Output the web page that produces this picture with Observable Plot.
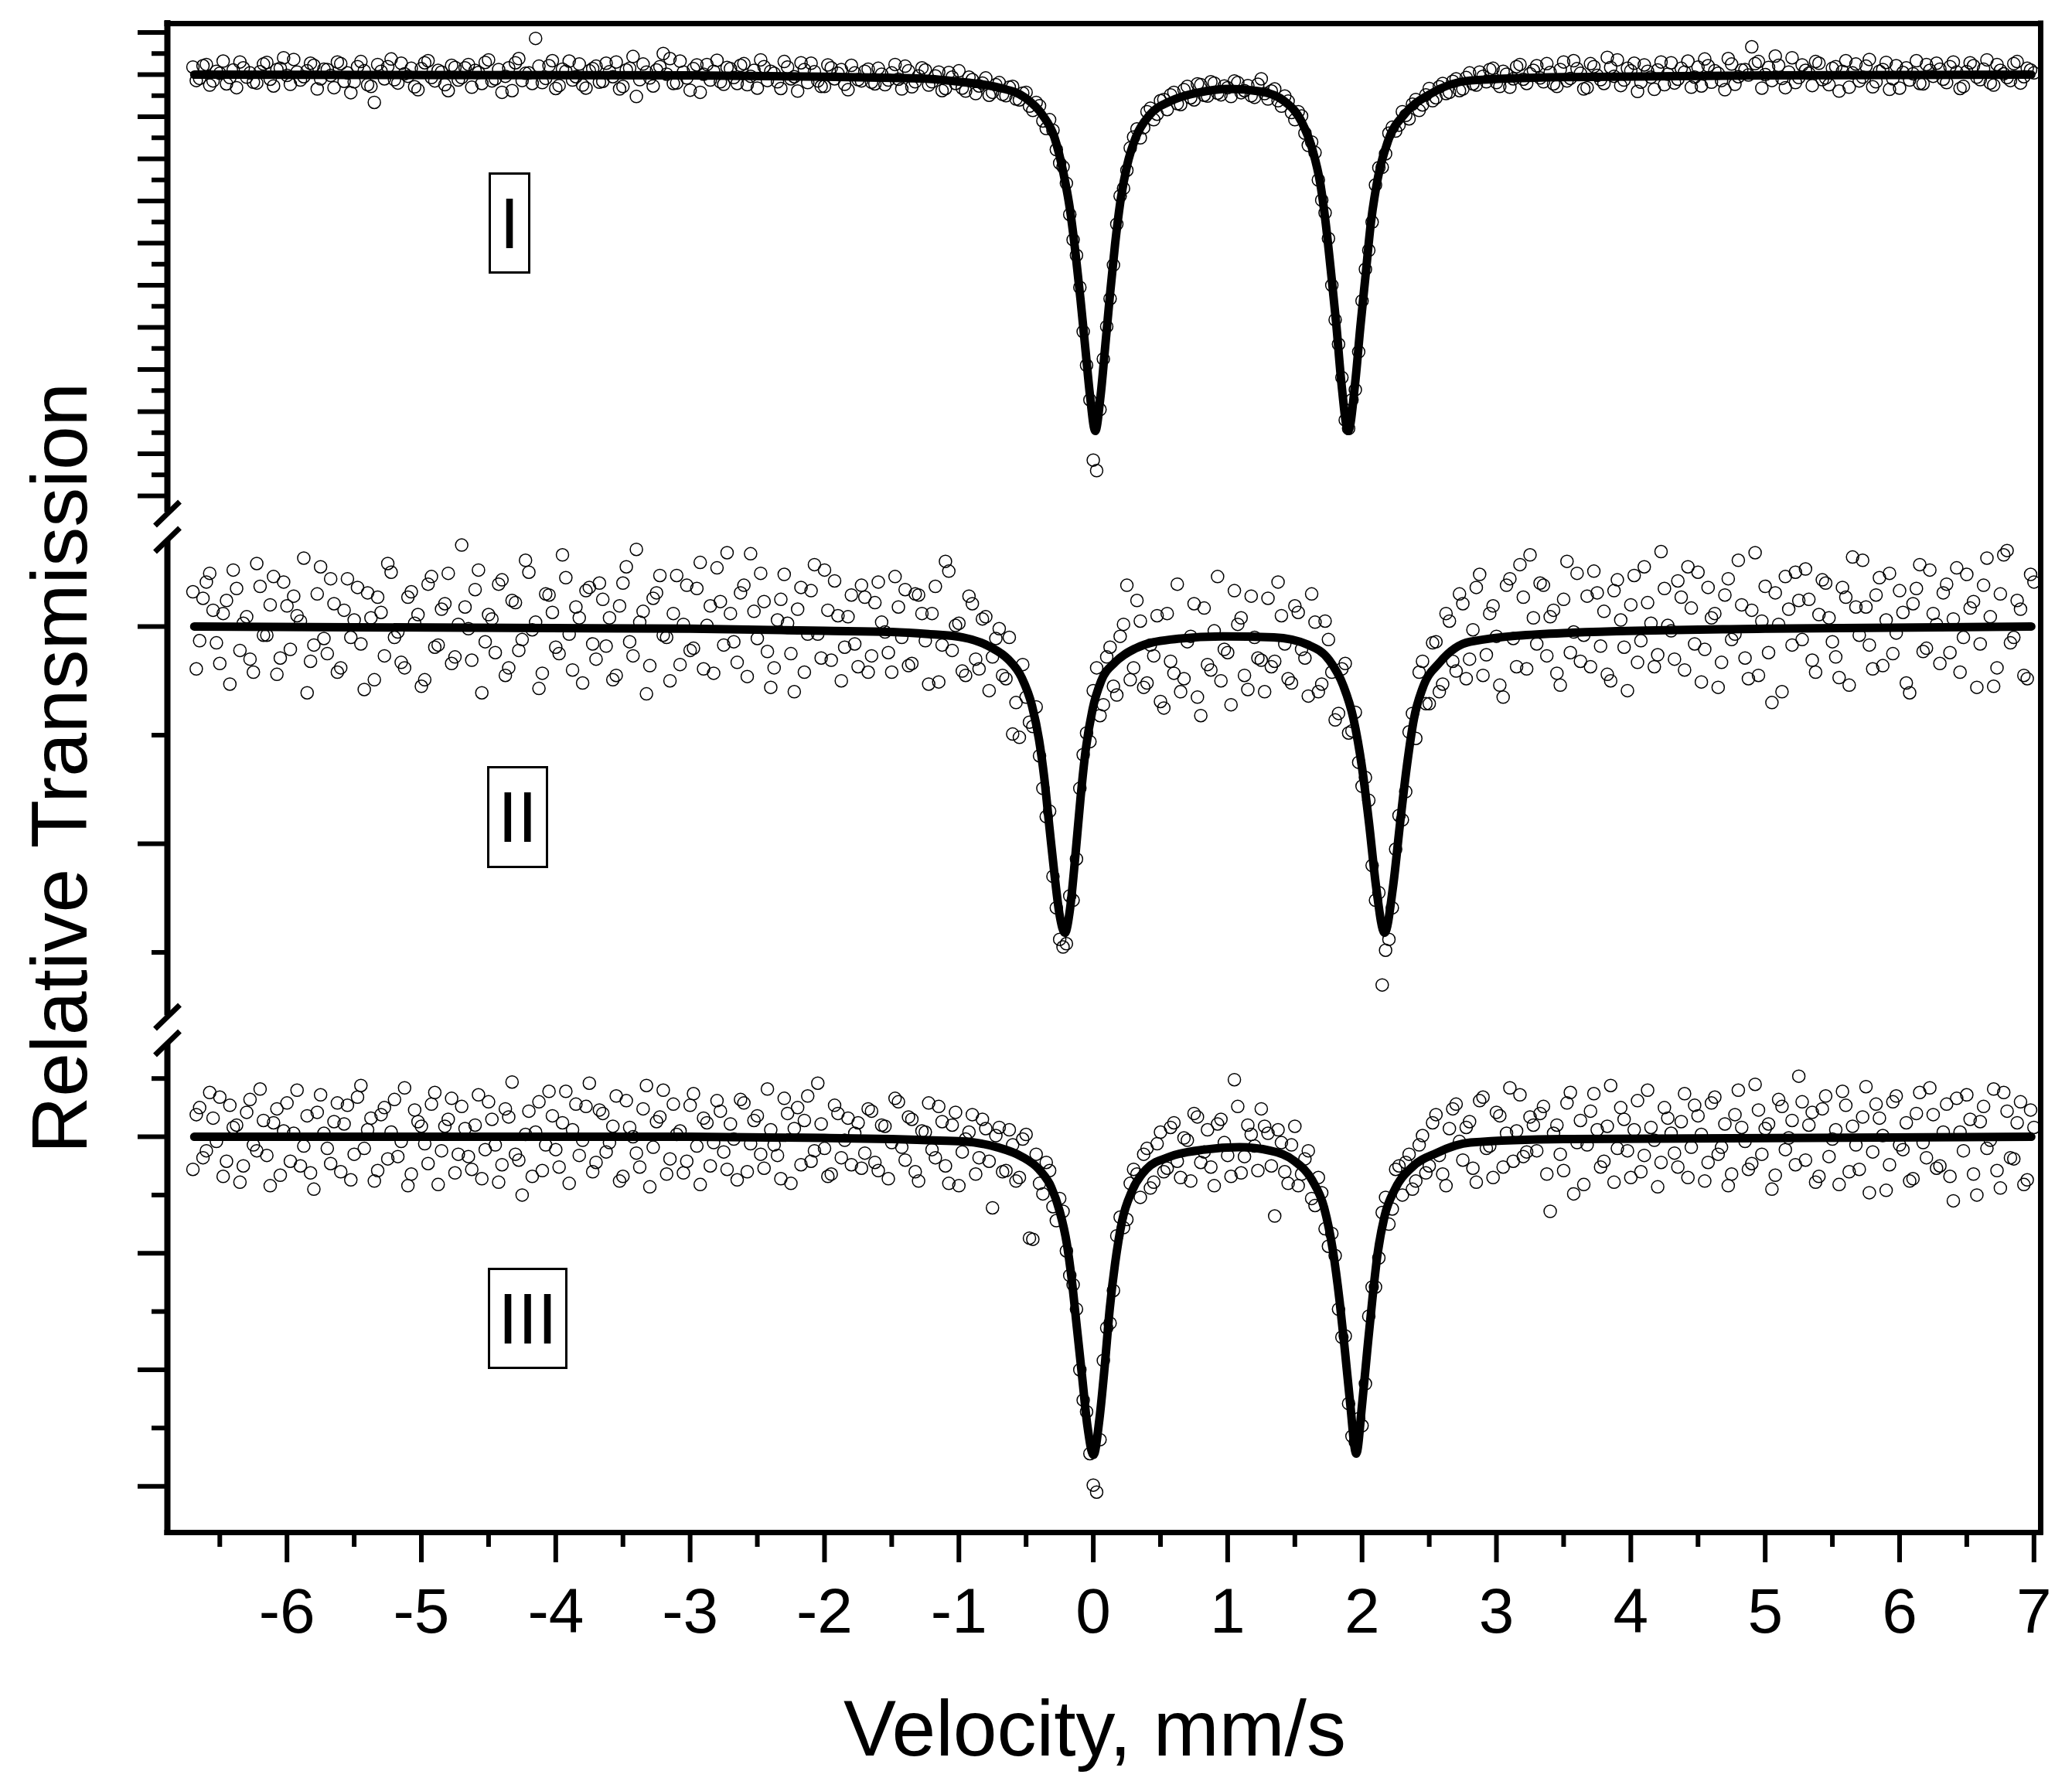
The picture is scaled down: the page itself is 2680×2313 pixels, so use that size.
<!DOCTYPE html>
<html><head><meta charset="utf-8">
<script src="https://cdn.jsdelivr.net/npm/d3@7"></script>
<script src="https://cdn.jsdelivr.net/npm/@observablehq/plot@0.6"></script>
<style>
html,body{margin:0;padding:0;background:#fff;}
#chart{position:relative;width:2680px;height:2313px;overflow:hidden;font-family:"Liberation Sans",Arial,sans-serif;}
#chart svg{position:absolute;left:0;top:0;overflow:visible;}
.tag{position:absolute;box-sizing:border-box;border:3px solid #000;display:flex;align-items:center;justify-content:center;font-size:92px;line-height:1;color:#000;}
</style></head><body><div id="chart"></div>
<script>
// ---------- data ----------
// Channels: even channels start at -6.700 mm/s, odd channels at -6.675 mm/s,
// each row below holds 20 channels of one parity (0.05 mm/s apart, 1 mm/s per row).
const evenStart = -6.700;
const oddStart = -6.675;
const channelStep = 0.05;

const xTickLabels = [-6,-5,-4,-3,-2,-1,0,1,2,3,4,5,6,7];
const xMinorTicks = [-6.5,-5.5,-4.5,-3.5,-2.5,-1.5,-0.5,0.5,1.5,2.5,3.5,4.5,5.5,6.5];
const panelLabels = ["I","II","III"];

// Spectrum I
const spectrumIEven = [
[1.0018,0.9991,1.0024,0.9985,1.0003,0.9978,1.0011,1.0030,0.9994,0.9982,1.0007,1.0029,0.9973,1.0015,0.9998,1.0036,0.9987,1.0009,1.0022,0.9990],
[1.0012,0.9969,1.0026,1.0004,0.9983,1.0031,0.9976,0.9934,1.0008,1.0019,0.9988,1.0027,0.9996,0.9971,1.0014,1.0033,0.9985,1.0006,0.9962,1.0017],
[0.9993,1.0024,1.0010,0.9979,1.0035,0.9990,0.9958,1.0016,1.0028,0.9986,1.0004,1.0086,0.9981,1.0021,0.9967,1.0013,1.0032,0.9995,0.9975,1.0009],
[1.0020,0.9984,1.0007,1.0030,0.9972,1.0015,0.9948,1.0025,0.9992,1.0011,1.0050,1.0038,0.9980,1.0006,0.9963,1.0023,1.0001,0.9987,1.0034,0.9977],
[1.0014,0.9979,1.0026,0.9996,0.9968,1.0019,1.0008,0.9983,1.0031,0.9990,0.9961,1.0012,1.0027,0.9985,0.9972,1.0016,1.0003,0.9977,1.0022,0.9988],
[1.0008,0.9982,1.0015,0.9976,1.0004,0.9989,1.0020,0.9971,0.9997,1.0011,0.9983,1.0006,0.9967,0.9994,1.0009,0.9961,0.9988,0.9973,0.9992,0.9958],
[0.9981,0.9950,0.9972,0.9940,0.9958,0.9915,0.9926,0.9872,0.9868,0.9790,0.9742,0.9608,0.9495,0.9310,0.9085,0.9205,0.9402,0.9548,0.9712,0.9773],
[0.9852,0.9850,0.9912,0.9893,0.9938,0.9917,0.9958,0.9929,0.9972,0.9940,0.9976,0.9949,0.9980,0.9952,0.9969,0.9985,0.9957,0.9974,0.9946,0.9990],
[0.9942,0.9966,0.9925,0.9937,0.9893,0.9902,0.9832,0.9815,0.9702,0.9611,0.9418,0.9281,0.9160,0.9252,0.9463,0.9583,0.9738,0.9780,0.9861,0.9866],
[0.9912,0.9895,0.9941,0.9928,0.9967,0.9945,0.9979,0.9958,0.9990,0.9966,1.0004,0.9975,0.9996,1.0012,0.9981,1.0008,0.9970,1.0019,0.9989,1.0002],
[1.0021,0.9983,1.0005,0.9972,1.0030,0.9991,1.0014,0.9966,1.0026,0.9998,0.9979,1.0017,1.0035,0.9987,1.0009,0.9960,1.0023,0.9994,1.0011,0.9976],
[1.0028,0.9989,1.0006,0.9970,1.0018,1.0037,0.9982,1.0003,0.9964,1.0025,0.9995,1.0012,1.0066,1.0031,1.0000,0.9986,1.0022,0.9969,1.0040,0.9993],
[1.0010,0.9974,1.0027,0.9992,1.0015,0.9961,1.0033,1.0004,0.9985,1.0020,0.9971,1.0008,1.0029,0.9990,0.9968,1.0016,1.0002,0.9979,1.0024,0.9996],
[1.0013,0.9981,1.0030,0.9967,1.0007,1.0021,0.9988,1.0035,0.9975,1.0010,0.9993,1.0026,0.9980,1.0015,1.0004]];
const spectrumIOdd = [
[0.9986,1.0021,0.9975,1.0008,1.0032,0.9993,0.9969,1.0016,1.0004,0.9980,1.0025,0.9989,1.0012,1.0040,0.9977,1.0006,0.9995,1.0027,0.9966,1.0013],
[0.9998,1.0030,0.9984,0.9957,1.0019,1.0009,0.9972,1.0024,0.9990,1.0037,0.9980,1.0002,1.0015,0.9964,1.0028,0.9993,1.0010,0.9976,1.0022,0.9987],
[1.0016,0.9970,1.0005,1.0029,0.9985,1.0012,0.9996,0.9962,1.0038,1.0003,0.9979,1.0020,0.9991,1.0033,0.9974,1.0008,0.9987,1.0025,0.9968,1.0014],
[0.9982,1.0027,0.9995,0.9966,1.0011,1.0043,0.9988,1.0006,0.9973,1.0019,1.0001,0.9979,1.0032,0.9992,1.0014,0.9958,1.0024,1.0008,0.9983,1.0017],
[0.9993,1.0022,0.9976,1.0010,1.0035,0.9986,1.0003,0.9967,1.0018,0.9995,1.0028,0.9981,1.0007,0.9972,1.0023,0.9990,1.0012,0.9964,1.0004,0.9985],
[1.0013,0.9978,1.0001,0.9987,1.0024,0.9966,1.0009,0.9983,1.0016,0.9975,0.9997,0.9962,1.0005,0.9979,0.9968,0.9994,0.9955,0.9980,0.9951,0.9976],
[0.9953,0.9970,0.9942,0.9956,0.9925,0.9934,0.9890,0.9893,0.9822,0.9781,0.9668,0.9571,0.9390,0.9228,0.9060,0.9325,0.9468,0.9645,0.9730,0.9826],
[0.9871,0.9874,0.9920,0.9906,0.9941,0.9952,0.9931,0.9964,0.9945,0.9978,0.9951,0.9983,0.9956,0.9973,0.9948,0.9981,0.9962,0.9950,0.9977,0.9955],
[0.9961,0.9938,0.9949,0.9910,0.9912,0.9861,0.9840,0.9750,0.9672,0.9500,0.9360,0.9180,0.9228,0.9342,0.9538,0.9650,0.9779,0.9812,0.9875,0.9880],
[0.9903,0.9930,0.9915,0.9952,0.9938,0.9971,0.9955,0.9984,0.9962,0.9993,0.9978,1.0006,0.9983,1.0015,0.9972,1.0001,0.9990,1.0024,0.9979,1.0010],
[0.9992,1.0026,0.9978,1.0012,0.9985,1.0033,1.0003,0.9969,1.0019,0.9988,1.0041,0.9996,0.9974,1.0015,1.0027,0.9982,1.0008,0.9965,1.0030,1.0001],
[0.9980,1.0015,1.0032,0.9994,0.9973,1.0021,1.0009,0.9986,1.0038,0.9977,1.0011,0.9999,1.0026,0.9968,1.0017,1.0044,0.9991,1.0006,0.9981,1.0023],
[1.0003,1.0031,0.9988,0.9976,1.0019,1.0008,0.9970,1.0025,0.9994,1.0036,0.9983,1.0012,0.9965,1.0021,1.0005,0.9987,1.0033,0.9978,1.0010,1.0027],
[0.9989,1.0019,1.0006,0.9972,1.0028,0.9994,1.0013,0.9980,1.0024,1.0002,0.9986,1.0031,0.9995,1.0011]];

// Spectrum II
const spectrumIIEven = [
[1.0032,0.9987,1.0041,1.0015,0.9966,1.0024,1.0052,0.9978,1.0009,0.9958,1.0037,0.9992,1.0046,0.9971,1.0019,1.0028,1.0005,0.9939,0.9983,1.0055],
[0.9975,1.0021,0.9962,1.0044,1.0006,0.9984,1.0031,0.9951,1.0013,1.0058,0.9990,0.9967,1.0027,1.0003,0.9945,1.0039,0.9981,1.0016,1.0049,0.9972],
[1.0075,0.9998,1.0034,0.9939,1.0011,0.9976,1.0043,0.9962,1.0022,0.9988,1.0050,1.0004,0.9957,1.0029,0.9981,1.0066,0.9993,1.0018,0.9948,1.0036],
[0.9970,1.0025,1.0008,0.9955,1.0040,0.9986,1.0071,1.0014,0.9964,1.0031,0.9992,0.9950,1.0047,1.0002,0.9978,1.0035,0.9961,1.0019,1.0054,0.9983],
[1.0012,0.9967,1.0038,1.0067,0.9989,1.0023,0.9944,1.0006,1.0048,0.9975,1.0016,0.9958,1.0033,0.9993,1.0052,0.9969,1.0010,0.9981,1.0029,0.9963],
[1.0027,0.9973,1.0041,0.9995,0.9958,1.0018,1.0034,0.9966,1.0029,0.9987,1.0012,0.9949,1.0060,0.9978,1.0003,0.9955,1.0021,0.9961,1.0009,0.9972],
[0.9998,0.9952,0.9901,0.9898,0.9935,0.9908,0.9881,0.9825,0.9770,0.9712,0.9708,0.9748,0.9851,0.9902,0.9941,0.9918,0.9972,0.9945,0.9991,1.0038],
[0.9962,1.0005,0.9948,0.9973,0.9931,1.0012,0.9957,0.9940,0.9986,1.0021,0.9918,0.9965,0.9996,0.9950,0.9976,1.0033,1.0008,0.9942,0.9990,0.9969],
[1.0026,0.9968,1.0010,0.9952,1.0019,0.9979,0.9936,1.0004,0.9947,0.9988,0.9914,0.9961,0.9902,0.9921,0.9853,0.9840,0.9748,0.9670,0.9712,0.9795],
[0.9822,0.9903,0.9897,0.9968,0.9929,0.9986,0.9947,1.0005,0.9959,1.0021,0.9970,1.0036,0.9955,1.0012,0.9991,0.9935,1.0044,0.9963,1.0027,1.0066],
[0.9984,1.0038,1.0009,0.9957,1.0025,0.9976,1.0049,0.9992,0.9963,1.0031,1.0014,0.9950,1.0043,0.9981,1.0020,0.9967,1.0055,1.0003,0.9974,1.0035],
[0.9996,1.0042,0.9960,1.0017,1.0050,0.9979,1.0008,0.9944,1.0029,0.9988,1.0061,0.9971,1.0015,0.9955,1.0037,0.9930,1.0002,1.0046,0.9983,1.0024],
[1.0053,0.9969,1.0011,1.0040,0.9986,0.9953,1.0027,1.0064,0.9992,1.0018,0.9961,1.0045,1.0006,0.9975,1.0033,0.9948,1.0021,1.0057,0.9980,1.0012],
[0.9966,1.0039,1.0007,0.9958,1.0048,1.0023,0.9984,1.0063,0.9945,1.0030,1.0070,0.9990,1.0016,0.9952,1.0041]];
const spectrumIIOdd = [
[0.9961,1.0026,1.0049,0.9985,1.0012,0.9947,1.0035,1.0003,0.9970,1.0058,0.9992,1.0020,0.9956,1.0041,0.9979,1.0010,1.0063,0.9968,1.0030,0.9989],
[1.0044,0.9958,1.0015,0.9990,1.0036,0.9942,1.0008,1.0027,0.9973,1.0050,0.9995,0.9962,1.0032,1.0011,0.9951,1.0046,0.9983,1.0021,0.9966,1.0002],
[1.0018,0.9969,1.0052,0.9986,1.0007,1.0039,0.9955,1.0024,0.9978,1.0061,0.9997,0.9943,1.0030,1.0013,0.9975,1.0045,0.9960,1.0008,1.0033,0.9984],
[1.0040,0.9982,0.9951,1.0019,1.0055,0.9973,1.0004,0.9938,1.0026,1.0047,0.9990,1.0012,0.9965,1.0038,0.9980,1.0059,1.0001,0.9957,1.0023,1.0068],
[0.9986,1.0031,0.9954,1.0014,1.0049,0.9977,0.9962,1.0025,1.0003,0.9940,1.0036,0.9993,1.0057,0.9971,1.0015,1.0042,0.9950,1.0009,0.9984,1.0038],
[0.9958,1.0022,1.0004,0.9976,1.0046,0.9990,0.9964,1.0030,1.0012,0.9947,1.0037,0.9983,1.0051,1.0001,0.9959,1.0028,0.9970,1.0007,0.9941,0.9989],
[0.9955,0.9990,0.9930,0.9965,0.9912,0.9926,0.9851,0.9830,0.9741,0.9705,0.9752,0.9786,0.9882,0.9894,0.9962,0.9928,0.9981,0.9937,1.0002,0.9951],
[1.0024,0.9944,0.9983,1.0010,0.9925,0.9968,1.0039,0.9952,0.9991,0.9935,1.0017,0.9960,1.0046,0.9979,0.9928,1.0002,0.9955,1.0028,0.9971,0.9940],
[0.9963,1.0041,0.9984,0.9948,1.0013,0.9971,1.0030,0.9940,1.0005,0.9958,0.9920,0.9966,0.9904,0.9875,0.9861,0.9780,0.9755,0.9702,0.9741,0.9826],
[0.9848,0.9920,0.9958,0.9929,0.9985,0.9940,1.0012,0.9968,1.0030,0.9952,0.9997,1.0048,0.9974,1.0019,0.9946,1.0038,0.9989,1.0057,0.9961,1.0008],
[1.0040,0.9973,1.0015,0.9946,1.0060,0.9995,0.9968,1.0028,1.0051,0.9982,0.9956,1.0033,1.0006,0.9941,1.0047,0.9987,1.0022,0.9963,1.0069,1.0001],
[0.9970,1.0027,1.0055,0.9984,0.9949,1.0036,1.0012,0.9967,1.0044,0.9993,1.0020,0.9952,1.0068,1.0005,0.9976,1.0031,0.9940,1.0016,1.0050,0.9988],
[1.0025,0.9958,1.0043,1.0008,0.9972,1.0036,0.9946,1.0018,1.0061,0.9983,1.0029,0.9964,1.0049,0.9994,1.0013,0.9939,1.0035,0.9977,1.0052,1.0002],
[1.0031,0.9976,1.0054,0.9990,1.0017,0.9944,1.0038,1.0009,0.9962,1.0066,0.9985,1.0024,0.9955,1.0048]];

// Spectrum III
const spectrumIIIEven = [
[0.9972,1.0025,0.9988,1.0016,1.0034,0.9979,1.0008,0.9961,1.0021,0.9993,1.0041,0.9984,1.0012,0.9967,1.0029,1.0003,0.9975,1.0018,0.9955,1.0036],
[0.9990,1.0013,0.9970,1.0027,0.9985,1.0044,1.0006,0.9962,1.0019,0.9981,1.0032,0.9996,0.9958,1.0023,1.0009,0.9977,1.0038,0.9988,1.0015,0.9969],
[1.0026,0.9983,1.0010,0.9964,1.0030,0.9993,0.9976,1.0017,0.9985,0.9950,1.0022,1.0004,0.9971,1.0039,0.9989,1.0012,0.9960,1.0028,0.9997,1.0046],
[0.9978,1.0020,0.9995,1.0035,0.9966,1.0008,0.9986,1.0024,0.9957,1.0013,1.0040,0.9981,1.0002,0.9969,1.0027,0.9992,1.0016,0.9975,1.0031,0.9987],
[1.0011,0.9963,1.0029,0.9994,1.0018,0.9973,1.0006,0.9984,1.0033,0.9960,1.0025,1.0014,0.9979,1.0046,0.9990,0.9968,1.0020,0.9997,0.9976,1.0012],
[0.9986,1.0022,0.9971,1.0009,0.9995,1.0030,0.9980,1.0015,0.9962,1.0004,0.9989,1.0026,0.9975,1.0010,0.9958,0.9998,1.0019,0.9982,1.0007,0.9939],
[1.0008,0.9971,0.9993,0.9965,1.0002,0.9912,0.9960,0.9978,0.9940,0.9947,0.9902,0.9873,0.9800,0.9764,0.9701,0.9740,0.9836,0.9868,0.9931,0.9929],
[0.9972,0.9948,0.9990,0.9961,1.0004,0.9973,1.0012,0.9965,0.9997,1.0020,0.9978,1.0006,0.9958,1.0015,0.9984,1.0049,0.9969,1.0010,0.9992,1.0024],
[1.0003,0.9932,0.9995,0.9960,1.0009,0.9968,0.9988,0.9941,0.9952,0.9906,0.9898,0.9828,0.9771,0.9738,0.9752,0.9846,0.9871,0.9935,0.9925,0.9972],
[0.9950,0.9985,0.9962,1.0001,0.9975,1.0019,0.9968,1.0007,1.0028,0.9980,1.0013,0.9961,1.0034,0.9992,1.0021,0.9974,1.0042,1.0005,0.9983,1.0017],
[0.9988,1.0026,0.9936,1.0010,0.9971,1.0038,0.9995,0.9959,1.0022,1.0006,0.9979,1.0044,0.9990,1.0015,0.9965,1.0031,0.9984,1.0008,0.9957,1.0025],
[1.0003,0.9974,1.0037,0.9991,1.0018,0.9962,1.0029,0.9985,1.0011,0.9968,1.0040,0.9996,0.9977,1.0023,1.0007,0.9955,1.0032,0.9989,1.0014,1.0052],
[0.9980,1.0021,0.9966,1.0035,0.9998,0.9959,1.0027,1.0009,0.9972,1.0043,0.9987,1.0016,0.9954,1.0030,0.9993,1.0012,0.9964,1.0038,0.9982,1.0019],
[0.9975,1.0028,0.9945,1.0004,1.0036,0.9968,1.0013,0.9990,1.0041,0.9956,1.0022,0.9981,1.0030,0.9963,1.0008]];
const spectrumIIIOdd = [
[1.0019,0.9982,1.0038,0.9996,0.9966,1.0027,1.0010,0.9975,1.0032,0.9988,1.0014,0.9958,1.0024,1.0005,0.9979,1.0040,0.9992,0.9969,1.0021,1.0003],
[0.9977,1.0029,1.0011,0.9963,1.0034,0.9990,1.0016,0.9971,1.0025,1.0004,0.9983,1.0042,0.9968,1.0013,0.9994,1.0028,0.9959,1.0009,1.0033,0.9985],
[1.0007,0.9972,1.0036,0.9989,1.0015,0.9961,1.0024,1.0047,0.9980,1.0002,0.9966,1.0030,0.9993,1.0018,0.9974,1.0039,1.0006,0.9984,1.0026,0.9970],
[1.0023,0.9987,1.0009,0.9962,1.0031,1.0000,0.9974,1.0044,0.9991,1.0017,0.9968,1.0028,1.0005,0.9979,1.0037,0.9959,1.0012,0.9995,1.0022,0.9972],
[0.9998,1.0032,0.9970,1.0014,0.9985,1.0041,0.9993,0.9964,1.0020,1.0007,0.9976,1.0035,0.9988,1.0011,0.9966,1.0027,0.9982,1.0016,1.0003,0.9973],
[1.0024,0.9978,1.0010,0.9964,1.0033,0.9991,1.0017,0.9970,1.0005,1.0029,0.9982,1.0013,0.9960,1.0021,0.9987,1.0004,0.9968,1.0015,0.9979,1.0001],
[0.9970,1.0006,0.9962,0.9998,0.9913,0.9985,0.9951,0.9971,0.9928,0.9936,0.9881,0.9852,0.9774,0.9728,0.9695,0.9808,0.9840,0.9915,0.9922,0.9960],
[0.9968,0.9985,0.9956,0.9994,0.9970,1.0008,0.9979,0.9999,0.9962,1.0017,0.9987,0.9974,1.0011,0.9995,0.9966,1.0026,0.9983,1.0002,0.9971,1.0009],
[0.9975,1.0006,0.9970,0.9993,0.9958,0.9981,0.9947,0.9965,0.9921,0.9917,0.9852,0.9829,0.9743,0.9758,0.9788,0.9871,0.9896,0.9948,0.9938,0.9975],
[0.9978,0.9955,0.9993,0.9969,1.0012,0.9984,0.9958,1.0024,0.9996,1.0008,0.9973,1.0031,0.9990,0.9965,1.0018,1.0003,0.9979,1.0036,0.9987,1.0010],
[1.0020,0.9968,1.0003,0.9985,1.0029,0.9951,1.0014,0.9993,1.0037,0.9974,1.0009,0.9961,1.0025,0.9988,1.0006,0.9970,1.0040,0.9997,0.9978,1.0016],
[0.9986,1.0013,0.9965,1.0027,1.0002,0.9978,1.0034,0.9991,0.9958,1.0019,1.0008,0.9972,1.0045,0.9985,1.0011,0.9967,1.0026,0.9999,0.9976,1.0030],
[1.0010,0.9961,1.0024,0.9983,1.0006,1.0039,0.9970,0.9993,1.0017,0.9952,1.0028,1.0001,0.9976,1.0035,0.9989,0.9962,1.0020,0.9995,1.0042,0.9973],
[1.0004,0.9966,1.0033,0.9988,1.0015,0.9950,1.0026,0.9997,0.9971,1.0038,0.9982,1.0012,0.9959,1.0023]];

// Fitted curves
const fitIVelocity = [-6.69,-3.00,-2.00,-1.50,-1.227,-0.970,-0.714,-0.507,-0.378,-0.289,-0.224,-0.173,-0.134,-0.095,-0.057,-0.024,0.015,0.054,0.090,0.123,0.162,0.200,0.252,0.316,0.419,0.573,0.779,1.010,1.242,1.422,1.550,1.627,1.692,1.730,1.769,1.808,1.846,1.897,1.949,1.987,2.026,2.065,2.116,2.194,2.322,2.502,2.805,3.50,5.00,6.98];
const fitITrans = [1.0000,0.9998,0.9995,0.9992,0.9990,0.9982,0.9970,0.9945,0.9904,0.9851,0.9769,0.9679,0.9581,0.9466,0.9343,0.9237,0.9154,0.9237,0.9359,0.9474,0.9597,0.9695,0.9785,0.9851,0.9904,0.9937,0.9957,0.9966,0.9960,0.9937,0.9888,0.9826,0.9736,0.9646,0.9531,0.9408,0.9269,0.9154,0.9269,0.9400,0.9523,0.9646,0.9752,0.9843,0.9908,0.9953,0.9986,0.9994,0.9998,1.0000];

const fitIIVelocity = [-6.69,-3.00,-2.00,-1.50,-1.227,-0.970,-0.764,-0.635,-0.533,-0.456,-0.404,-0.365,-0.327,-0.289,-0.250,-0.211,-0.173,-0.134,-0.095,-0.057,-0.005,0.059,0.162,0.316,0.573,0.959,1.344,1.602,1.756,1.859,1.936,2.000,2.052,2.103,2.168,2.232,2.283,2.335,2.386,2.450,2.579,2.805,3.50,5.00,6.98];
const fitIITrans = [1.0000,0.9998,0.9996,0.9995,0.9993,0.9990,0.9981,0.9970,0.9953,0.9927,0.9896,0.9861,0.9816,0.9772,0.9734,0.9718,0.9740,0.9788,0.9842,0.9886,0.9924,0.9950,0.9967,0.9980,0.9988,0.9991,0.9990,0.9983,0.9969,0.9946,0.9915,0.9870,0.9819,0.9762,0.9718,0.9762,0.9819,0.9873,0.9915,0.9943,0.9967,0.9986,0.9994,0.9998,1.0000];

const fitIIIVelocity = [-6.69,-3.00,-2.00,-1.50,-1.227,-0.970,-0.714,-0.533,-0.404,-0.314,-0.250,-0.198,-0.160,-0.121,-0.083,-0.044,0.002,0.046,0.085,0.123,0.162,0.213,0.290,0.393,0.573,0.830,1.088,1.319,1.499,1.627,1.718,1.782,1.833,1.872,1.910,1.957,2.000,2.039,2.078,2.116,2.168,2.245,2.373,2.553,2.805,3.50,6.98];
const fitIIITrans = [1.0000,1.0000,0.9999,0.9998,0.9997,0.9996,0.9991,0.9983,0.9972,0.9957,0.9936,0.9909,0.9877,0.9835,0.9794,0.9752,0.9727,0.9758,0.9803,0.9853,0.9891,0.9927,0.9954,0.9972,0.9983,0.9989,0.9991,0.9988,0.9979,0.9963,0.9939,0.9903,0.9859,0.9817,0.9773,0.9728,0.9770,0.9817,0.9862,0.9900,0.9932,0.9955,0.9974,0.9986,0.9995,0.9998,1.0000];

// y ticks (unlabelled) for each panel
const ticksIMajor = [1.01,1.00,0.99,0.98,0.97,0.96,0.95,0.94,0.93,0.92,0.91,0.90];
const ticksIMinor = [1.005,0.995,0.985,0.975,0.965,0.955,0.945,0.935,0.925,0.915,0.905];
const ticksIIMajor = [1.00,0.98];
const ticksIIMinor = [0.99,0.97];
const ticksIIIMajor = [1.00,0.99,0.98,0.97];
const ticksIIIMinor = [1.005,0.995,0.985,0.975];

// ---------- layout ----------
const W = 2680, H = 2313;
const xDomain = [-6.89, 7.05];
const font = "Liberation Sans, Arial, sans-serif";
const rowSpan = 20 * channelStep;

function channels(rows, start) {
  return rows.flatMap((row, r) => row.map((t, j) => ({v: start + r * rowSpan + j * channelStep, t})));
}

const gapSymbol = {draw(ctx){ ctx.moveTo(-7,-19); ctx.lineTo(7,-19); ctx.lineTo(7,17); ctx.lineTo(-7,17); ctx.closePath(); }};
const slashSymbol = {draw(ctx){ ctx.moveTo(-16,-1.5); ctx.lineTo(16,-32.5); ctx.moveTo(-16,32.5); ctx.lineTo(16,1.5); }};

function panel({top, bottom, yDomain, even, odd, fitV, fitT, majors, minors, first, last}) {
  const pts = channels(even, evenStart).concat(channels(odd, oddStart));
  const fit = fitV.map((v, i) => ({v, t: fitT[i]}));
  const corner = [{v: xDomain[0], t: yDomain[1]}];
  const marks = [
    Plot.axisY(majors, {anchor: "left", tickSize: 38, tickFormat: () => "", strokeWidth: 6, label: null}),
    Plot.axisY(minors, {anchor: "left", tickSize: 20, tickFormat: () => "", strokeWidth: 6, label: null}),
    Plot.ruleX([xDomain[0]], {stroke: "black", strokeWidth: 8, strokeLinecap: "square"}),
    Plot.ruleX([xDomain[1]], {stroke: "black", strokeWidth: 7, strokeLinecap: "square"}),
    Plot.dot(pts, {x: "v", y: "t", r: 8, fill: "none", stroke: "black", strokeWidth: 1.5}),
    Plot.line(fit, {x: "v", y: "t", curve: "monotone-x", stroke: "black", strokeWidth: 11, strokeLinejoin: "round"})
  ];
  if (first) marks.push(Plot.ruleY([yDomain[1]], {stroke: "black", strokeWidth: 7, strokeLinecap: "square"}));
  if (!first) {
    marks.push(Plot.dot(corner, {x: "v", y: "t", symbol: gapSymbol, fill: "white", stroke: "none"}));
    marks.push(Plot.dot(corner, {x: "v", y: "t", symbol: slashSymbol, fill: "none", stroke: "black", strokeWidth: 7}));
  }
  if (last) {
    marks.push(Plot.ruleY([yDomain[0]], {stroke: "black", strokeWidth: 7, strokeLinecap: "square"}));
    marks.push(Plot.axisX(xTickLabels, {anchor: "bottom", tickSize: 39, tickPadding: 32, fontSize: 82, tickFormat: d => String(d), strokeWidth: 6, label: null}));
    marks.push(Plot.axisX(xMinorTicks, {anchor: "bottom", tickSize: 19, tickFormat: () => "", strokeWidth: 6, label: null}));
    marks.push(Plot.text(["Velocity, mm/s"], {frameAnchor: "bottom", textAnchor: "middle", lineAnchor: "bottom", dy: 288, dx: -12, fontSize: 102}));
  }
  if (!first && !last) {
    marks.push(Plot.text(["Relative Transmission"], {frameAnchor: "left", rotate: -90, textAnchor: "middle", lineAnchor: "bottom", dx: -105, dy: -13.5, fontSize: 102}));
  }
  return Plot.plot({
    width: W, height: H,
    marginLeft: 216, marginRight: 41, marginTop: top, marginBottom: H - bottom,
    style: {background: "transparent", overflow: "visible", fontFamily: font, color: "black"},
    x: last ? {domain: xDomain} : {domain: xDomain, axis: null},
    y: {domain: yDomain},
    marks
  });
}

const chart = document.getElementById("chart");
chart.append(panel({top: 30, bottom: 681, yDomain: [0.89266, 1.01211], even: spectrumIEven, odd: spectrumIOdd, fitV: fitIVelocity, fitT: fitITrans, majors: ticksIMajor, minors: ticksIMinor, first: true}));
chart.append(panel({top: 681, bottom: 1332, yDomain: [0.96285, 1.00918], even: spectrumIIEven, odd: spectrumIIOdd, fitV: fitIIVelocity, fitT: fitIITrans, majors: ticksIIMajor, minors: ticksIIMinor}));
chart.append(panel({top: 1332, bottom: 1982, yDomain: [0.96603, 1.00916], even: spectrumIIIEven, odd: spectrumIIIOdd, fitV: fitIIIVelocity, fitT: fitIIITrans, majors: ticksIIIMajor, minors: ticksIIIMinor, last: true}));

// panel tags
const tagBoxes = [
  {left: 632, top: 223, width: 54, height: 131},
  {left: 630, top: 991, width: 79, height: 132},
  {left: 631, top: 1640, width: 103, height: 131}
];
panelLabels.forEach((txt, i) => {
  const d = document.createElement("div");
  d.className = "tag";
  const b = tagBoxes[i];
  d.style.left = b.left + "px"; d.style.top = b.top + "px";
  d.style.width = b.width + "px"; d.style.height = b.height + "px";
  d.textContent = txt;
  chart.append(d);
});
</script></body></html>
